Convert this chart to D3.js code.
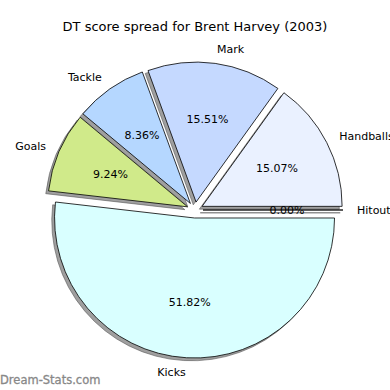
<!DOCTYPE html>
<html>
<head>
<meta charset="utf-8">
<script src="https://cdn.jsdelivr.net/npm/d3@7"></script>
<style>
body { margin: 0; background: #fff; }
text { font-family: "DejaVu Sans", sans-serif; }
</style>
</head>
<body>
<div id="chart"></div>
<script>
// Data
const categories = ["Hitout", "Handballs", "Mark", "Tackle", "Goals", "Kicks"];
const values = [0.00, 15.07, 15.51, 8.36, 9.24, 51.82];
const colors = ["#eaf1ff", "#eaf1ff", "#c5d9ff", "#b5d7ff", "#d0ea8a", "#d9ffff"];

const width = 390, height = 390;
const cx = 195, cy = 210, radius = 140, explode = 8;

const svg = d3.select("#chart").append("svg")
    .attr("width", width)
    .attr("height", height);

// matplotlib-style: start at 3 o'clock, go counterclockwise
const pie = d3.pie()
    .sort(null)
    .startAngle(Math.PI / 2)
    .endAngle(Math.PI / 2 - 2 * Math.PI)
    .value(d => d.value);

const data = pie(categories.map((c, i) => ({ name: c, value: values[i], color: colors[i] })));

const arc = d3.arc().innerRadius(0).outerRadius(radius);

// mid angle in math convention (ccw from x axis)
const mid = a => Math.PI / 2 - (a.startAngle + a.endAngle) / 2;
const offset = a => [explode * Math.cos(mid(a)), -explode * Math.sin(mid(a))];

const g = svg.append("g").attr("transform", "translate(" + cx + "," + cy + ")");

// Shadows
g.selectAll(".shadow")
    .data(data)
    .enter().append("path")
    .attr("class", "shadow")
    .attr("transform", d => {
        const o = offset(d);
        return "translate(" + (o[0] - 2.8) + "," + (o[1] + 2.8) + ")";
    })
    .attr("d", arc)
    .attr("fill", "#505050")
    .attr("fill-opacity", 0.55)
    .attr("stroke", "#505050")
    .attr("stroke-opacity", 0.55)
    .attr("stroke-width", 1);

// Wedges
g.selectAll(".wedge")
    .data(data)
    .enter().append("path")
    .attr("class", "wedge")
    .attr("transform", d => "translate(" + offset(d).join(",") + ")")
    .attr("d", arc)
    .attr("fill", d => d.data.color)
    .attr("stroke", "#000")
    .attr("stroke-width", 0.8)
    .attr("stroke-linejoin", "round");

// Category labels at 1.1 radius
g.selectAll(".label")
    .data(data)
    .enter().append("text")
    .attr("class", "label")
    .attr("x", d => offset(d)[0] + 1.1 * radius * Math.cos(mid(d)))
    .attr("y", d => offset(d)[1] - 1.1 * radius * Math.sin(mid(d)))
    .attr("dy", "0.35em")
    .attr("text-anchor", d => Math.cos(mid(d)) > 0 ? "start" : "end")
    .attr("font-size", 11)
    .attr("fill", "#000")
    .text(d => d.data.name);

// Percent labels at 0.6 radius
g.selectAll(".pct")
    .data(data)
    .enter().append("text")
    .attr("class", "pct")
    .attr("x", d => offset(d)[0] + 0.6 * radius * Math.cos(mid(d)))
    .attr("y", d => offset(d)[1] - 0.6 * radius * Math.sin(mid(d)))
    .attr("dy", "0.35em")
    .attr("text-anchor", "middle")
    .attr("font-size", 11)
    .attr("fill", "#000")
    .text(d => d.data.value.toFixed(2) + "%");

// Title
svg.append("text")
    .attr("x", 195)
    .attr("y", 26)
    .attr("dy", "0.35em")
    .attr("text-anchor", "middle")
    .attr("font-size", 13)
    .text("DT score spread for Brent Harvey (2003)");

// Watermark
svg.append("text")
    .attr("x", 0)
    .attr("y", 380)
    .attr("dy", "0.35em")
    .attr("font-size", 11.5)
    .attr("fill", "#888")
    .attr("stroke", "#888")
    .attr("stroke-width", 0.3)
    .text("Dream-Stats.com");
</script>
</body>
</html>
